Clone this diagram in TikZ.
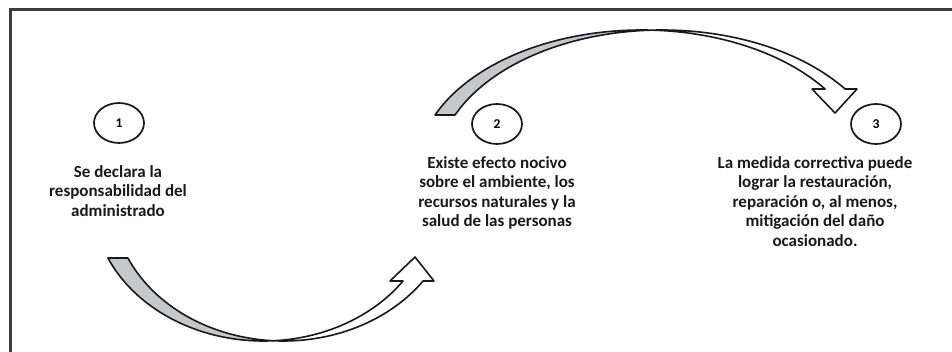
\documentclass[tikz,border=0pt]{standalone}
\usepackage{fontspec}
\setmainfont{Carlito}
\usetikzlibrary{shapes.geometric}
\definecolor{arrgray}{RGB}{198,199,205}
\definecolor{ink}{RGB}{25,25,25}
\tikzset{
  numcirc/.style={draw=ink, line width=1.7pt, ellipse, minimum width=50pt, minimum height=40pt, inner sep=0pt, font=\fontsize{13.5}{15}\selectfont\bfseries},
  label/.style={align=center, anchor=north, inner sep=0pt, text=ink, font=\fontsize{17}{19.5}\selectfont\bfseries},
  band/.style={draw=ink, line width=1.6pt, line join=round},
  frame/.style={draw=ink!85, line width=2.6pt}
}
\begin{document}
\begin{tikzpicture}[x=1pt,y=-1pt]
\useasboundingbox (0,0) rectangle (952,352);
\fill[white] (0,0) rectangle (952,352);
\begin{scope}
\clip (0,0) rectangle (952,352);
\draw[frame] (10.5,9.5) rectangle (1000,420);
\end{scope}
% circles
\node[numcirc] (c1) at (119,123) {1};
\node[numcirc] (c2) at (497,124) {2};
\node[numcirc] (c3) at (876,124) {3};
% texts
\node[label] (t1) at (118,165) {Se declara la\\responsabilidad del\\administrado};
\node[label] (t2) at (497,156) {Existe efecto nocivo\\sobre el ambiente, los\\recursos naturales y la\\salud de las personas};
\node[label] (t3) at (815,156) {La medida correctiva puede\\lograr la restauración,\\reparación o, al menos,\\mitigación del daño\\ocasionado.};
% arrow 1 (curved up arrow, bottom)
\path[band, fill=arrgray]
  plot[domain=155.7:86.64, samples=60] ({263.4+170.6*cos(\x)},{200+141*sin(\x)})
  -- plot[domain=93.36:155.7, samples=60] ({283.4+170.6*cos(\x)},{200+141*sin(\x)})
  -- cycle;
\path[band, fill=white]
  plot[domain=86.64:35.06, samples=60] ({263.4+170.6*cos(\x)},{200+141*sin(\x)})
  -- (390,281) -- (415,257) -- (434,281)
  -- plot[domain=35.06:93.36, samples=60] ({283.4+170.6*cos(\x)},{200+141*sin(\x)})
  -- cycle;
% arrow 2 (curved down arrow, top)
\path[band, fill=arrgray]
  plot[domain=203.4:272.54, samples=60] ({641.8+225.3*cos(\x)},{171+141*sin(\x)})
  -- plot[domain=267.46:203.4, samples=60] ({661.8+225.3*cos(\x)},{171+141*sin(\x)})
  -- cycle;
\path[band, fill=white]
  plot[domain=272.54:324.44, samples=60] ({641.8+225.3*cos(\x)},{171+141*sin(\x)})
  -- (812,89) -- (835,113) -- (857,89)
  -- plot[domain=324.44:267.46, samples=60] ({661.8+225.3*cos(\x)},{171+141*sin(\x)})
  -- cycle;
\end{tikzpicture}
\end{document}
